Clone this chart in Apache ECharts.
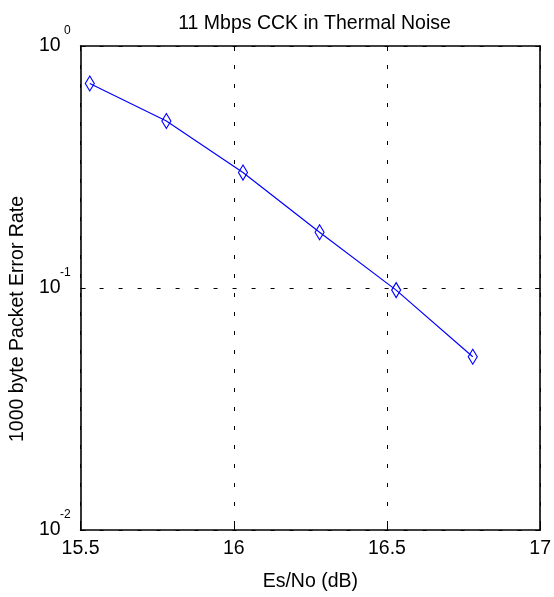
<!DOCTYPE html>
<html>
<head>
<meta charset="utf-8">
<script src="https://cdn.jsdelivr.net/npm/echarts@6/dist/echarts.min.js"></script>
<style>
  html, body { margin: 0; padding: 0; background: #fff; }
  #chart { width: 554px; height: 597px; }
</style>
</head>
<body>
<div id="chart"></div>
<script>
const titleText = '11 Mbps CCK in Thermal Noise';
const xName = 'Es/No (dB)';
const yName = '1000 byte Packet Error Rate';
const esNo = [15.53, 15.78, 16.03, 16.28, 16.53, 16.78];
const per = [0.70, 0.49, 0.30, 0.17, 0.098, 0.052];
const xTicks = [15.5, 16, 16.5, 17];
const yTickExponents = [-2, -1, 0];

const FONT = '"Liberation Sans", Arial, sans-serif';
const FS = 19.5;

const chart = echarts.init(document.getElementById('chart'), null, { renderer: 'canvas' });

const gridDash = { color: '#000', width: 1, type: [4, 15] };
const box = { show: true, lineStyle: { color: '#000', width: 1.6 } };

const option = {
  backgroundColor: '#fff',
  animation: false,
  title: {
    text: titleText,
    left: 309.5,
    textAlign: 'center',
    top: 9,
    textStyle: { fontFamily: FONT, fontSize: FS, fontWeight: 'normal', color: '#000' }
  },
  grid: { left: 76, right: 11, top: 46, bottom: 63, containLabel: false },
  xAxis: [
    {
      type: 'value', position: 'bottom',
      min: xTicks[0], max: xTicks[xTicks.length - 1], interval: 0.5,
      name: xName, nameLocation: 'middle', nameGap: 42,
      nameTextStyle: { fontFamily: FONT, fontSize: FS, color: '#000' },
      axisLine: box,
      axisTick: { show: true, inside: true, length: 5, lineStyle: { color: '#000' } },
      axisLabel: {
        margin: 9, fontFamily: FONT, fontSize: FS, color: '#000',
        formatter: v => String(xTicks.find(t => Math.abs(t - v) < 1e-6) ?? v)
      },
      splitLine: { show: true, lineStyle: gridDash }
    },
    {
      type: 'value', position: 'top',
      min: xTicks[0], max: xTicks[xTicks.length - 1], interval: 0.5,
      axisLine: box,
      axisTick: { show: true, inside: true, length: 5, lineStyle: { color: '#000' } },
      axisLabel: { show: false },
      splitLine: { show: false }
    }
  ],
  yAxis: [
    {
      type: 'log', logBase: 10, position: 'left',
      min: Math.pow(10, yTickExponents[0]), max: Math.pow(10, yTickExponents[yTickExponents.length - 1]),
      name: yName, nameLocation: 'middle', nameGap: 39,
      nameTextStyle: { fontFamily: FONT, fontSize: FS, color: '#000', padding: [0, 62, 0, 0] },
      axisLine: box,
      axisTick: { show: true, inside: true, length: 5, lineStyle: { color: '#000' } },
      minorTick: { show: false },
      axisLabel: {
        margin: 20, fontFamily: FONT, fontSize: FS, color: '#000',
        formatter: () => '10'
      },
      splitLine: { show: true, lineStyle: gridDash }
    },
    {
      type: 'log', logBase: 10, position: 'left',
      min: Math.pow(10, yTickExponents[0]), max: Math.pow(10, yTickExponents[yTickExponents.length - 1]),
      axisLine: { show: false },
      axisTick: { show: false },
      axisLabel: {
        margin: 10, fontFamily: FONT, fontSize: 12, color: '#000',
        align: 'right', verticalAlign: 'bottom', lineHeight: 30,
        formatter: v => String(Math.round(Math.log10(v)))
      },
      splitLine: { show: false }
    },
    {
      type: 'log', logBase: 10, position: 'right',
      min: Math.pow(10, yTickExponents[0]), max: Math.pow(10, yTickExponents[yTickExponents.length - 1]),
      axisLine: box,
      axisTick: { show: true, inside: true, length: 5, lineStyle: { color: '#000' } },
      axisLabel: { show: false },
      splitLine: { show: false }
    }
  ],
  series: [
    {
      type: 'line',
      xAxisIndex: 0, yAxisIndex: 0,
      data: esNo.map((x, i) => [x, per[i]]),
      symbol: 'diamond',
      symbolSize: [9, 15],
      showAllSymbol: true,
      lineStyle: { color: '#0000ff', width: 1.2 },
      itemStyle: { color: 'rgba(0,0,0,0)', borderColor: '#0000ff', borderWidth: 1.2 },
      emphasis: { disabled: true },
      z: 5
    }
  ]
};

chart.setOption(option);
</script>
</body>
</html>
